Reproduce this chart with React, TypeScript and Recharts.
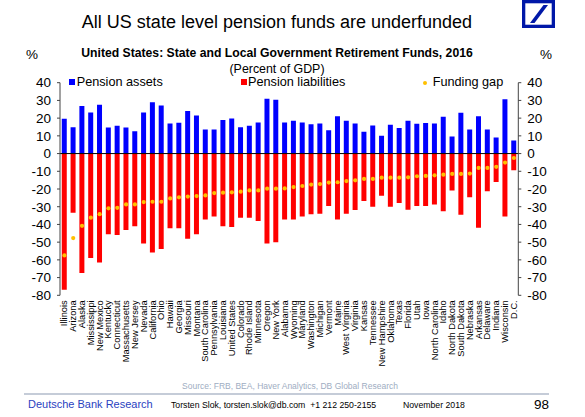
import React from 'react';
import { ComposedChart, Bar, Line, XAxis, YAxis, ReferenceLine } from 'recharts';

const FONT = '"Liberation Sans", Arial, Helvetica, sans-serif';

const states = [
  'Illinois', 'Arizona', 'Alaska', 'Mississippi', 'New Mexico', 'Kentucky', 'Connecticut',
  'Massachusetts', 'New Jersey', 'Nevada', 'California', 'Ohio', 'Hawaii', 'Georgia', 'Missouri',
  'Montana', 'South Carolina', 'Pennsylvania', 'Louisiana', 'United States', 'Colorado',
  'Rhode Island', 'Minnesota', 'Oregon', 'New York', 'Alabama', 'Wyoming', 'Maryland',
  'Washington', 'Michigan', 'Vermont', 'Maine', 'West Virginia', 'Virginia', 'Kansas',
  'Tennessee', 'New Hampshire', 'Oklahoma', 'Texas', 'Florida', 'Utah', 'Iowa',
  'North Carolina', 'Idaho', 'North Dakota', 'South Dakota', 'Nebraska', 'Arkansas',
  'Delaware', 'Indiana', 'Wisconsin', 'D.C.',
];

const pensionAssets = [
  19.6, 14.9, 26.8, 23.2, 27.5, 14.7, 15.7, 14.7, 12.6, 23.2,
  28.9, 27.2, 17.0, 17.4, 24.0, 21.5, 13.6, 13.6, 18.9, 19.8,
  14.9, 15.7, 17.5, 30.9, 30.4, 17.6, 18.5, 17.5, 16.6, 17.0,
  13.2, 21.1, 18.5, 17.0, 12.3, 15.8, 10.0, 16.2, 14.5, 18.5,
  16.8, 17.2, 17.0, 20.8, 9.6, 23.0, 13.6, 21.1, 13.6, 9.1,
  30.6, 7.4,
];

const pensionLiabilities = [
  -76.8, -33.4, -67.4, -58.9, -61.5, -45.5, -46.0, -43.2, -41.0, -50.8,
  -55.8, -53.8, -42.1, -42.1, -48.1, -45.5, -37.2, -35.5, -41.0, -41.5,
  -36.2, -36.2, -38.1, -50.8, -50.0, -37.2, -37.2, -35.5, -34.3, -34.0,
  -29.6, -37.2, -34.0, -31.9, -26.8, -30.0, -23.8, -30.0, -27.9, -31.7,
  -29.6, -29.6, -28.7, -32.6, -20.9, -34.5, -24.7, -41.9, -21.3, -16.0,
  -35.5, -9.4,
];

const fundingGap = [
  -57.5, -47.7, -40.8, -36.2, -34.2, -30.9, -30.6, -28.7, -28.7, -27.4,
  -27.2, -27.2, -25.3, -24.7, -24.3, -24.0, -23.6, -22.3, -22.1, -21.9,
  -21.5, -20.8, -20.8, -19.8, -19.8, -19.7, -18.9, -18.3, -17.5, -17.2,
  -16.4, -16.2, -15.5, -15.1, -14.3, -14.3, -13.6, -13.6, -13.6, -13.4,
  -12.8, -12.6, -12.3, -11.9, -11.5, -11.5, -11.3, -8.1, -8.1, -7.5,
  -5.1, -2.5,
];

const yTicks = [-80, -70, -60, -50, -40, -30, -20, -10, 0, 10, 20, 30, 40];

const data = states.map((s, i) => ({
  state: s,
  assets: pensionAssets[i],
  liabilities: pensionLiabilities[i],
  gap: fundingGap[i],
}));

const StateTick = (props: any) => {
  const { x, y, payload } = props;
  return (
    <g transform={`translate(${x},${y})`}>
      <text
        transform="rotate(-90)"
        x={-5}
        y={0}
        textAnchor="end"
        dominantBaseline="central"
        fontSize={9.3}
        fontFamily={FONT}
        fill="#000"
      >
        {payload.value}
      </text>
    </g>
  );
};

const abs = (extra: React.CSSProperties): React.CSSProperties => ({
  position: 'absolute',
  whiteSpace: 'nowrap',
  fontFamily: FONT,
  ...extra,
});

export default function App() {
  return (
    <div
      style={{
        position: 'absolute',
        left: 0,
        top: 0,
        width: 585,
        height: 417,
        background: '#fff',
        overflow: 'hidden',
        fontFamily: FONT,
      }}
    >
      <ComposedChart
        width={585}
        height={417}
        data={data}
        stackOffset="sign"
        barCategoryGap="20%"
        margin={{ top: 82.7, right: 21.7, bottom: 41.7, left: 15 }}
      >
        <XAxis
          dataKey="state"
          xAxisId="x"
          interval={0}
          tick={<StateTick />}
          tickLine={false}
          axisLine={false}
          tickSize={0}
          tickMargin={0}
          height={80}
        />
        <YAxis
          yAxisId="left"
          domain={[-80, 40]}
          ticks={yTicks}
          interval={0}
          allowDataOverflow
          width={45}
          tickSize={3}
          tickMargin={6}
          stroke="#444"
          tick={{ fontSize: 13.5, fill: '#000', fontFamily: FONT }}
        />
        <YAxis
          yAxisId="right"
          orientation="right"
          domain={[-80, 40]}
          ticks={yTicks}
          interval={0}
          allowDataOverflow
          width={45}
          tickSize={3}
          tickMargin={6}
          stroke="#444"
          tick={{ fontSize: 13.5, fill: '#000', fontFamily: FONT, textAnchor: 'start' }}
        />
        <Bar
          dataKey="assets"
          xAxisId="x"
          yAxisId="left"
          stackId="s"
          fill="#0000FF"
          isAnimationActive={false}
        />
        <Bar
          dataKey="liabilities"
          xAxisId="x"
          yAxisId="left"
          stackId="s"
          fill="#FF0000"
          isAnimationActive={false}
        />
        <ReferenceLine y={0} xAxisId="x" yAxisId="left" stroke="#000" strokeWidth={1} />
        <Line
          dataKey="gap"
          xAxisId="x"
          yAxisId="left"
          stroke="none"
          dot={{ r: 2.1, fill: '#FFC000', stroke: 'none' }}
          activeDot={false}
          isAnimationActive={false}
        />
      </ComposedChart>

      {/* Title */}
      <div style={abs({ left: 0, width: 554, top: 12, textAlign: 'center', fontSize: 18, lineHeight: '20px', color: '#000' })}>
        All US state level pension funds are underfunded
      </div>
      {/* Logo */}
      <svg style={{ position: 'absolute', left: 522, top: 0 }} width={34} height={29}>
        <rect x={1.65} y={1.65} width={29.7} height={24.7} fill="#fff" stroke="#0018A8" strokeWidth={3.3} />
        <polygon points="8,23 12.5,23 26,5 21.5,5" fill="#0018A8" />
      </svg>
      {/* Subtitle */}
      <div style={abs({ left: 0, width: 554, top: 45.5, textAlign: 'center', fontSize: 12.2, fontWeight: 'bold', lineHeight: '14px' })}>
        United States: State and Local Government Retirement Funds, 2016
      </div>
      <div style={abs({ left: 0, width: 554, top: 63, textAlign: 'center', fontSize: 12.4, lineHeight: '13px' })}>
        (Percent of GDP)
      </div>
      <div style={abs({ left: 26, top: 47, fontSize: 13.5, lineHeight: '15px' })}>%</div>
      <div style={abs({ left: 540, top: 47, fontSize: 13.5, lineHeight: '15px' })}>%</div>

      {/* Legend */}
      <div style={abs({ left: 69.3, top: 79.3, width: 6, height: 6, background: '#0000FF' })} />
      <div style={abs({ left: 76.7, top: 76, fontSize: 12.7, lineHeight: '13px' })}>Pension assets</div>
      <div style={abs({ left: 240.7, top: 79.3, width: 6, height: 6, background: '#FF0000' })} />
      <div style={abs({ left: 248, top: 76, fontSize: 12.7, lineHeight: '13px' })}>Pension liabilities</div>
      <div style={abs({ left: 423, top: 80.5, width: 4.2, height: 4.2, borderRadius: '50%', background: '#FFC000' })} />
      <div style={abs({ left: 432.7, top: 76, fontSize: 12.7, lineHeight: '13px' })}>Funding gap</div>

      {/* Footer */}
      <div style={abs({ left: 0, width: 580, top: 380.5, textAlign: 'center', fontSize: 8.5, lineHeight: '10px', color: '#9eadc2' })}>
        Source: FRB, BEA, Haver Analytics, DB Global Research
      </div>
      <div style={abs({ left: 24, top: 393, width: 525, height: 2, background: '#c5ccd8' })} />
      <div style={abs({ left: 28, top: 397.5, fontSize: 11, lineHeight: '13px', color: '#2a3fbf' })}>
        Deutsche Bank Research
      </div>
      <div style={abs({ left: 171, top: 399.5, fontSize: 8.7, lineHeight: '11px', color: '#000' })}>
        Torsten Slok, torsten.slok@db.com&nbsp;&nbsp;+1 212 250-2155
      </div>
      <div style={abs({ left: 403, top: 399.5, fontSize: 8.7, lineHeight: '11px', color: '#000' })}>
        November 2018
      </div>
      <div style={abs({ left: 534, top: 396.5, fontSize: 13.5, lineHeight: '15px', color: '#000' })}>98</div>
    </div>
  );
}
